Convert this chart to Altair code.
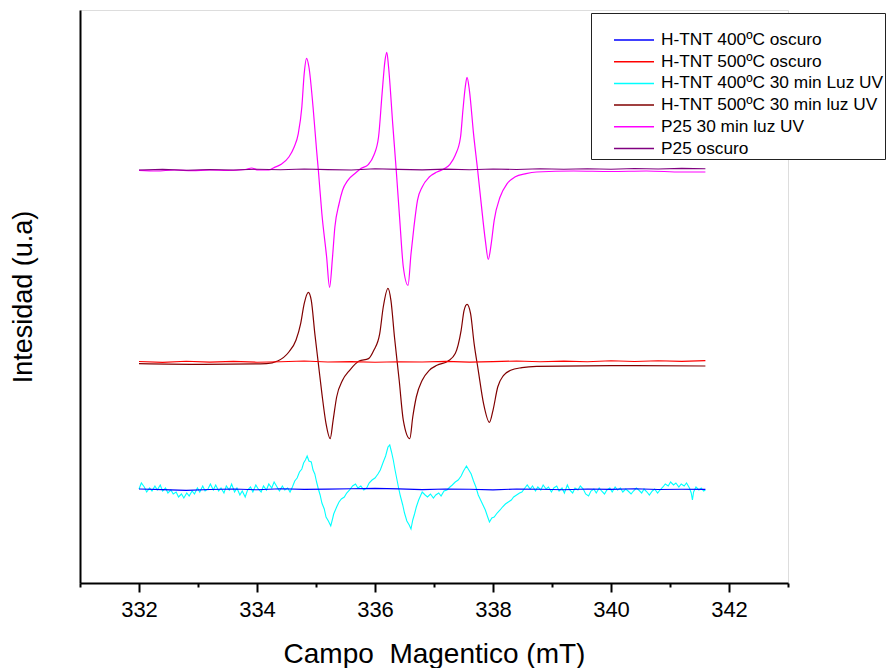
import altair as alt
import pandas as pd

SERIES = ["H-TNT 400ºC oscuro", "H-TNT 500ºC oscuro", "H-TNT 400ºC 30 min Luz UV",
          "H-TNT 500ºC 30 min luz UV", "P25 30 min luz UV", "P25 oscuro"]
COLORS = ["#0000ff", "#ff0000", "#00ffff", "#800000", "#ff00ff", "#800080"]

# H-TNT 400ºC oscuro (flat)
blue_x = [332.0, 332.4, 332.8, 333.2, 333.6, 334.0, 334.4, 334.8, 335.2, 335.6, 336.0, 336.4,
          336.8, 337.2, 337.6, 338.0, 338.4, 338.8, 339.2, 339.6, 340.0, 340.4, 340.8, 341.2, 341.6]
blue_y = [94.0, 93.4, 92.6, 93.5, 94.0, 93.2, 94.2, 93.6, 93.9, 94.3, 94.6, 94.1,
          93.4, 94.0, 93.7, 93.1, 94.0, 93.8, 93.3, 94.0, 93.6, 94.2, 93.5, 93.8, 93.6]

# H-TNT 500ºC oscuro (flat)
red_x = [332.0, 332.4, 332.8, 333.2, 333.6, 334.0, 334.4, 334.8, 335.2, 335.6, 336.0, 336.4,
         336.8, 337.2, 337.6, 338.0, 338.4, 338.8, 339.2, 339.6, 340.0, 340.4, 340.8, 341.2, 341.6]
red_y = [221.5, 220.6, 221.8, 220.9, 221.6, 220.8, 221.2, 222.0, 221.0, 221.4, 220.7, 221.3,
         221.0, 221.6, 220.9, 221.4, 222.0, 221.3, 221.9, 221.2, 222.2, 221.5, 222.3, 221.6, 222.4]

# H-TNT 400ºC 30 min Luz UV (noisy)
cyan_x = [332.00, 332.04, 332.09, 332.13, 332.18, 332.22, 332.27, 332.31, 332.36, 332.40,
          332.45, 332.49, 332.54, 332.58, 332.63, 332.67, 332.72, 332.76, 332.81, 332.85,
          332.90, 332.94, 332.99, 333.03, 333.08, 333.12, 333.17, 333.21, 333.26, 333.30,
          333.35, 333.39, 333.44, 333.48, 333.53, 333.57, 333.62, 333.66, 333.71, 333.75,
          333.80, 333.84, 333.89, 333.93, 333.98, 334.02, 334.07, 334.11, 334.16, 334.20,
          334.25, 334.29, 334.34, 334.38, 334.43, 334.47, 334.52, 334.56, 334.60,
          334.64, 334.68, 334.72, 334.76, 334.79, 334.82, 334.85, 334.88, 334.92, 334.95,
          334.98, 335.01, 335.04, 335.07, 335.10, 335.14, 335.17, 335.21, 335.25, 335.28,
          335.30, 335.35, 335.39, 335.43, 335.48, 335.52, 335.57, 335.62, 335.67, 335.71,
          335.76, 335.81, 335.86, 335.90, 335.95, 336.00, 336.05, 336.09, 336.14, 336.18,
          336.22, 336.25, 336.28, 336.31, 336.34, 336.37, 336.40, 336.43, 336.47, 336.50,
          336.54, 336.58, 336.61, 336.64, 336.67, 336.70, 336.74, 336.77, 336.80, 336.85,
          336.89, 336.94, 336.99, 337.03, 337.08, 337.12, 337.17, 337.22, 337.27, 337.31,
          337.36, 337.41, 337.46, 337.50, 337.55, 337.59, 337.63, 337.67, 337.71, 337.75,
          337.79, 337.83, 337.87, 337.91, 337.94, 337.98, 338.02, 338.07, 338.12, 338.16,
          338.21, 338.26, 338.31, 338.35, 338.40, 338.45, 338.49, 338.54,
          338.58, 338.63, 338.67, 338.72, 338.76, 338.81, 338.85, 338.90, 338.94, 338.99,
          339.03, 339.08, 339.12, 339.17, 339.21, 339.26, 339.30, 339.35, 339.39, 339.44,
          339.48, 339.53, 339.57, 339.62, 339.66, 339.71, 339.75, 339.80, 339.84, 339.89,
          339.93, 339.98, 340.02, 340.07, 340.11, 340.16, 340.20, 340.25, 340.29, 340.34,
          340.38, 340.43, 340.47, 340.52, 340.56, 340.61, 340.65, 340.70, 340.74, 340.79,
          340.83, 340.88, 340.92, 340.97, 341.01, 341.06, 341.10, 341.15, 341.19, 341.24,
          341.28, 341.33, 341.36, 341.38, 341.40, 341.44, 341.49, 341.53, 341.57, 341.60]
cyan_y = [94, 100, 96, 91, 95, 92, 97, 93, 98, 92,
          95, 90, 93, 89, 91, 86, 89, 85, 90, 87,
          92, 89, 95, 91, 97, 92, 94, 99, 93, 98,
          92, 95, 90, 97, 93, 99, 91, 95, 88, 92,
          86, 93, 96, 91, 98, 94, 91, 97, 93, 99,
          95, 101, 96, 92, 97, 93, 95, 91, 96,
          102, 105, 111, 114, 120, 123, 127, 122, 121, 113,
          109, 101, 94, 88, 80, 74, 66, 62, 57, 64,
          69, 76, 81, 84, 86, 90, 93, 97, 99, 95,
          97, 93, 95, 100, 103, 105, 109, 113, 121, 127,
          136, 138, 131, 123, 113, 104, 95, 87, 78, 70,
          62, 58, 54, 63, 69, 76, 83, 87, 91, 88,
          86, 89, 85, 88, 90, 87, 92, 93, 96, 98,
          101, 103, 107, 112, 117, 113, 109, 102, 96, 88,
          83, 78, 73, 66, 61, 65, 66, 70, 73, 76,
          79, 81, 83, 86, 88, 90, 91, 95,
          98, 94, 97, 92, 96, 93, 98, 94, 96, 91,
          95, 97, 92, 95, 90, 98, 93, 90, 95, 93,
          97, 94, 89, 87, 92, 94, 90, 95, 92, 89,
          93, 95, 91, 96, 93, 95, 91, 94, 92, 89,
          92, 95, 93, 90, 94, 91, 88, 92, 94, 90,
          93, 96, 99, 97, 101, 98, 100, 96, 99, 97,
          100, 95, 90, 83, 91, 96, 93, 95, 92, 93]

# H-TNT 500ºC 30 min luz UV
maroon_x = [332.00, 333.09, 334.16, 334.35, 334.54, 334.66, 334.74, 334.80, 334.87, 334.92,
            334.98, 335.04, 335.10, 335.17, 335.24, 335.29, 335.35, 335.45, 335.57, 335.73,
            335.89, 335.98, 336.08, 336.14, 336.22, 336.27, 336.33, 336.41, 336.48, 336.59,
            336.64, 336.70, 336.80, 336.92, 337.05, 337.24, 337.36, 337.46, 337.51, 337.56,
            337.62, 337.68, 337.75, 337.84, 337.94, 338.00, 338.08, 338.18, 338.30, 338.49,
            338.74, 340.00, 341.60]
maroon_y = [219.4, 218.7, 219.4, 222.0, 231.0, 242.7, 259.4, 279.4, 290.7, 282.7,
            249.4, 219.4, 189.4, 159.4, 144.4, 162.7, 186.0, 202.7, 212.7, 222.0,
            224.4, 232.7, 249.4, 276.0, 294.7, 282.7, 246.0, 202.7, 162.7, 144.4,
            166.0, 186.0, 202.7, 212.7, 217.7, 222.0, 229.4, 252.7, 272.7, 278.7,
            269.4, 239.4, 212.7, 179.4, 160.7, 172.7, 196.0, 207.7, 212.7, 215.4,
            216.7, 217.4, 217.0]

# P25 30 min luz UV
mag_x = [332.00, 332.30, 332.60, 332.90, 333.20, 333.50, 333.80, 333.91, 334.00, 334.20,
         334.29, 334.41, 334.54, 334.63, 334.70, 334.76, 334.80, 334.84, 334.88, 334.95,
         335.01, 335.04, 335.10, 335.18, 335.23, 335.28, 335.32, 335.39, 335.45, 335.54,
         335.67, 335.76, 335.89, 335.98, 336.06, 336.12, 336.17, 336.20, 336.23, 336.30,
         336.36, 336.42, 336.48, 336.56, 336.61, 336.66, 336.72, 336.80, 336.92, 337.05,
         337.18, 337.27, 337.36, 337.45, 337.49, 337.53, 337.56, 337.60, 337.67, 337.74,
         337.80, 337.87, 337.92, 337.97, 338.02, 338.12, 338.24, 338.37, 338.56, 338.74,
         339.37, 340.00, 340.60, 341.20, 341.60]
mag_y = [412.7, 412.0, 413.0, 412.3, 413.0, 412.5, 413.5, 415.0, 413.2, 413.0,
         415.4, 418.7, 426.0, 436.0, 449.4, 476.0, 509.4, 524.7, 516.0, 476.0,
         432.7, 412.7, 369.0, 326.0, 295.7, 326.0, 356.0, 379.0, 392.7, 402.7,
         410.0, 414.4, 418.7, 427.7, 446.0, 489.4, 522.7, 530.7, 516.0, 459.4,
         412.7, 362.7, 316.0, 297.7, 329.0, 356.0, 382.7, 396.0, 406.0, 411.0,
         414.4, 418.7, 427.7, 446.0, 472.7, 496.0, 505.7, 492.7, 449.4, 412.7,
         379.4, 342.7, 323.7, 339.4, 362.7, 386.0, 399.4, 406.0, 409.4, 411.0,
         412.0, 411.5, 412.0, 411.0, 411.0]

# P25 oscuro (flat)
pur_x = [332.0, 332.4, 332.8, 333.2, 333.6, 334.0, 334.4, 334.8, 335.2, 335.6, 336.0, 336.4,
         336.8, 337.2, 337.6, 338.0, 338.4, 338.8, 339.2, 339.6, 340.0, 340.4, 340.8, 341.2, 341.6]
pur_y = [413.0, 413.6, 412.8, 413.5, 413.0, 413.8, 413.2, 414.0, 413.4, 413.0, 414.2, 413.6,
         413.1, 413.9, 413.3, 414.0, 413.5, 414.2, 413.7, 414.3, 413.8, 414.5, 414.0, 414.6, 414.2]


def frame(name, xs, ys):
    return pd.DataFrame({"campo": xs, "intensidad": ys, "serie": name})


noisy = frame(SERIES[2], cyan_x, cyan_y)
smooth = pd.concat([frame(SERIES[3], maroon_x, maroon_y), frame(SERIES[4], mag_x, mag_y)])
flats = pd.concat([frame(SERIES[0], blue_x, blue_y), frame(SERIES[1], red_x, red_y),
                   frame(SERIES[5], pur_x, pur_y)])

FONT = "Liberation Sans"

x_enc = alt.X("campo:Q",
              scale=alt.Scale(domain=[331, 343], nice=False, zero=False),
              axis=alt.Axis(values=list(range(331, 344)),
                            labelExpr="datum.value % 2 === 0 ? datum.label : ''",
                            tickSize={"condition": {"test": "datum.value % 2 !== 0", "value": 4}, "value": 9},
                            tickWidth=2, tickColor="black", domainColor="black", domainWidth=2,
                            labelFont=FONT, labelFontSize=22, labelColor="black", labelPadding=7,
                            grid=False, title="Campo\u00a0 Magentico (mT)", titleFont=FONT,
                            titleFontSize=28, titleFontWeight="normal", titleColor="black",
                            titlePadding=20, labelFlush=False))
y_enc = alt.Y("intensidad:Q",
              scale=alt.Scale(domain=[0, 573], nice=False, zero=False),
              axis=alt.Axis(labels=False, ticks=False, grid=False, domainColor="black", domainWidth=2,
                            title="Intesidad (u.a)", titleFont=FONT, titleFontSize=27,
                            titleFontWeight="normal", titleColor="black", titlePadding=43))
color_enc = alt.Color("serie:N",
                      scale=alt.Scale(domain=SERIES, range=COLORS),
                      legend=alt.Legend(title=" ", orient="none", legendX=511, legendY=3,
                                        padding=1, symbolType="stroke", symbolSize=1600,
                                        symbolStrokeWidth=1.5, symbolOffset=21,
                                        labelFont=FONT, labelFontSize=17.3, labelColor="black",
                                        labelOffset=6, labelLimit=400, clipHeight=18, rowPadding=3.7,
                                        strokeColor="#222222", fillColor="white",
                                        titleFontSize=12, titlePadding=5, cornerRadius=0))

base = alt.Chart().encode(x=x_enc, y=y_enc, color=color_enc)

l1 = base.mark_line(strokeWidth=1.1).properties(data=noisy)
l2 = base.mark_line(strokeWidth=1.2, interpolate="monotone").properties(data=smooth)
l3 = base.mark_line(strokeWidth=1.1).properties(data=flats)

chart = alt.layer(l1, l2, l3).properties(
    width=708, height=573,
    autosize=alt.AutoSizeParams(type="none"),
    padding={"left": 80, "top": 10, "right": 98, "bottom": 85},
).configure_view(stroke=None).configure_legend(strokeWidth=2).configure(background="white")

chart.save("out.html", embed_options={"renderer": "svg", "actions": False})
